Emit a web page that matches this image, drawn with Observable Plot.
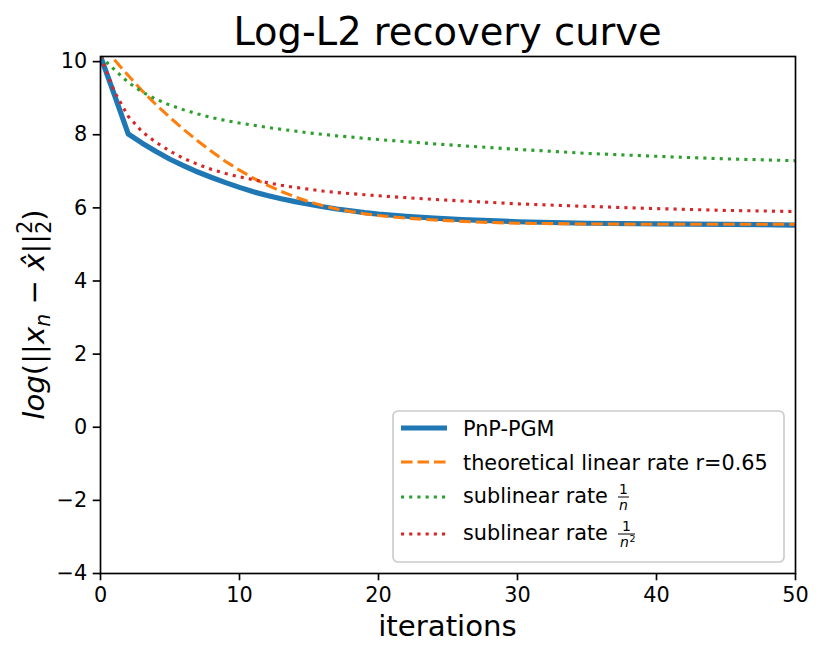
<!DOCTYPE html>
<html>
<head>
<meta charset="utf-8">
<script src="https://cdn.jsdelivr.net/npm/d3@7"></script>
<script src="https://cdn.jsdelivr.net/npm/@observablehq/plot@0.6"></script>
<style>
  html, body { margin: 0; padding: 0; background: white; }
  svg { display: block; }
</style>
</head>
<body>
<div id="chart"></div>
<script>
// ---- data ----
const iterations = [0,1,2,3,4,5,6,7,8,9,10,11,12,13,14,15,16,17,18,19,20,22,24,26,28,30,35,40,45,50];
const linearIterations = [1,2,3,4,5,6,7,8,9,10,11,12,13,14,15,16,17,18,19,20,22,24,26,28,30,35,40,45,50];

const pnpPgm = [10.15,9.09,8.02,7.77,7.54,7.33,7.15,6.98,6.83,6.69,6.56,6.44,6.34,6.25,6.17,6.10,6.03,5.97,5.92,5.87,5.83,5.77,5.72,5.68,5.65,5.62,5.58,5.56,5.55,5.53];
const linearRate = [10.05,9.62,9.20,8.82,8.47,8.14,7.83,7.54,7.27,7.03,6.81,6.62,6.45,6.30,6.17,6.06,5.97,5.90,5.84,5.79,5.72,5.67,5.63,5.60,5.58,5.56,5.55,5.55,5.55];
const sublinear1 = [10.15,9.78,9.43,9.17,8.97,8.81,8.68,8.57,8.47,8.39,8.32,8.26,8.20,8.15,8.10,8.05,8.01,7.97,7.94,7.90,7.87,7.81,7.75,7.70,7.65,7.60,7.49,7.41,7.34,7.29];
const sublinear2 = [10.15,9.18,8.50,8.08,7.79,7.55,7.35,7.19,7.05,6.94,6.85,6.77,6.69,6.62,6.56,6.51,6.46,6.42,6.39,6.36,6.33,6.28,6.23,6.19,6.15,6.11,6.04,5.98,5.93,5.90];

const xTicks = [0,10,20,30,40,50];
const yTicks = [-4,-2,0,2,4,6,8,10];

const seriesNames = ["PnP-PGM","theoretical linear rate r=0.65","sublinear rate","sublinear rate"];
const colors = ["#1f77b4","#ff7f0e","#2ca02c","#d62728"];

// ---- build tables ----
const toRows = (xs, ys) => xs.map((x, i) => ({x, y: ys[i]}));
const rowsPnp = toRows(iterations, pnpPgm);
const rowsLin = toRows(linearIterations, linearRate);
const rowsS1 = toRows(iterations, sublinear1);
const rowsS2 = toRows(iterations, sublinear2);

const FONT = "DejaVu Sans";
const W = 821, H = 655;
const mL = 100, mR = 26, mT = 56, mB = 82;
const minus = d => d < 0 ? "\u2212" + Math.abs(d) : String(d);

const styles = [
  {strokeWidth: 5.2, strokeDasharray: null, strokeLinecap: "square"},
  {strokeWidth: 3.1, strokeDasharray: "11.5,5", strokeLinecap: "butt"},
  {strokeWidth: 3.1, strokeDasharray: "3.1,5.1", strokeLinecap: "butt"},
  {strokeWidth: 3.1, strokeDasharray: "3.1,5.1", strokeLinecap: "butt"}
];

const lineMark = (rows, k) => Plot.line(rows, Object.assign({
  x: "x", y: "y", stroke: colors[k], clip: true, strokeLinejoin: "round"
}, styles[k].strokeDasharray ? {strokeDasharray: styles[k].strokeDasharray} : {}, {
  strokeWidth: styles[k].strokeWidth, strokeLinecap: styles[k].strokeLinecap
}));

const chart = Plot.plot({
  width: W, height: H,
  marginLeft: mL, marginRight: mR, marginTop: mT, marginBottom: mB,
  style: {fontFamily: FONT, fontSize: "20.8px", color: "black", background: "white"},
  x: {domain: [0, 50]},
  y: {domain: [-4, 10.14]},
  marks: [
    lineMark(rowsPnp, 0),
    lineMark(rowsLin, 1),
    lineMark(rowsS1, 2),
    lineMark(rowsS2, 3),
    Plot.frame({stroke: "black", strokeWidth: 1.67}),
    Plot.axisX({ticks: xTicks, tickSize: 7.3, tickPadding: 6, strokeWidth: 1.67, label: null, tickFormat: minus, fill: "black"}),
    Plot.axisY({ticks: yTicks, tickSize: 7.3, tickPadding: 6, strokeWidth: 1.67, label: null, tickFormat: minus, fill: "black"})
  ]
});
document.getElementById("chart").appendChild(chart);

const svg = d3.select(chart);
const cx = mL + (W - mL - mR) / 2;

// title
svg.append("text").attr("x", cx).attr("y", 45).attr("text-anchor", "middle")
  .attr("font-family", FONT).attr("font-size", 38.4).attr("fill", "black")
  .text("Log-L2 recovery curve");

// x label
svg.append("text").attr("x", cx).attr("y", 636).attr("text-anchor", "middle")
  .attr("font-family", FONT).attr("font-size", 29.2).attr("fill", "black")
  .text("iterations");

// y label (math)
const yl = svg.append("text")
  .attr("transform", `translate(44,${mT + (H - mT - mB) / 2}) rotate(-90)`)
  .attr("text-anchor", "middle").attr("font-family", FONT)
  .attr("font-size", 29.2).attr("fill", "black");
yl.append("tspan").attr("font-style", "italic").text("log");
yl.append("tspan").text("(||");
yl.append("tspan").attr("font-style", "italic").text("x");
yl.append("tspan").attr("font-style", "italic").attr("font-size", 20.5).attr("dy", 6).text("n");
yl.append("tspan").attr("dy", -6).text(" \u2212 ");
yl.append("tspan").attr("font-style", "italic").text("x\u0302");
yl.append("tspan").text("||");
yl.append("tspan").attr("font-size", 20.5).attr("dy", -12).text("2");
yl.append("tspan").attr("font-size", 20.5).attr("dx", -13).attr("dy", 19).text("2");
yl.append("tspan").attr("dy", -7).text(")");

// legend
const lg = svg.append("g").attr("text-anchor", "start");
const lx = 393, ly = 411, lw = 391, lh = 151;
lg.append("rect").attr("x", lx).attr("y", ly).attr("width", lw).attr("height", lh)
  .attr("rx", 5).attr("fill", "white").attr("fill-opacity", 0.8)
  .attr("stroke", "#cccccc").attr("stroke-width", 1.67);
const rowY = [428, 462, 497, 534];
rowY.forEach((ry, k) => {
  const ln = lg.append("line").attr("x1", 401).attr("x2", 447).attr("y1", ry).attr("y2", ry)
    .attr("stroke", colors[k]).attr("stroke-width", styles[k].strokeWidth)
    .attr("stroke-linecap", "butt");
  if (styles[k].strokeDasharray) ln.attr("stroke-dasharray", styles[k].strokeDasharray);
  lg.append("text").attr("x", 463).attr("y", k < 2 ? ry + 7.6 : ry + 5.5)
    .attr("text-anchor", "start")
    .attr("font-family", FONT).attr("font-size", 20.8).attr("fill", "black")
    .text(seriesNames[k]);
});
// fractions 1/n and 1/n^2
const frac = (x0, ry, den, sup) => {
  const w = sup ? 17 : 11;
  const mx = x0 + w / 2;
  lg.append("line").attr("x1", x0).attr("x2", x0 + w).attr("y1", ry).attr("y2", ry)
    .attr("stroke", "black").attr("stroke-width", 1);
  lg.append("text").attr("x", mx).attr("y", ry - 3).attr("text-anchor", "middle")
    .attr("font-family", FONT).attr("font-size", 14).attr("fill", "black").text("1");
  const t = lg.append("text").attr("x", sup ? mx - 2 : mx).attr("y", ry + 13).attr("text-anchor", "middle")
    .attr("font-family", FONT).attr("font-size", 14).attr("fill", "black");
  t.append("tspan").attr("font-style", "italic").text(den);
  if (sup) {
    lg.append("text").attr("x", mx + 3).attr("y", ry + 8).attr("text-anchor", "start")
      .attr("font-family", FONT).attr("font-size", 9.5).attr("fill", "black").text("2");
  }
};
frac(618, rowY[2], "n", false);
frac(618, rowY[3], "n", true);
</script>
</body>
</html>
